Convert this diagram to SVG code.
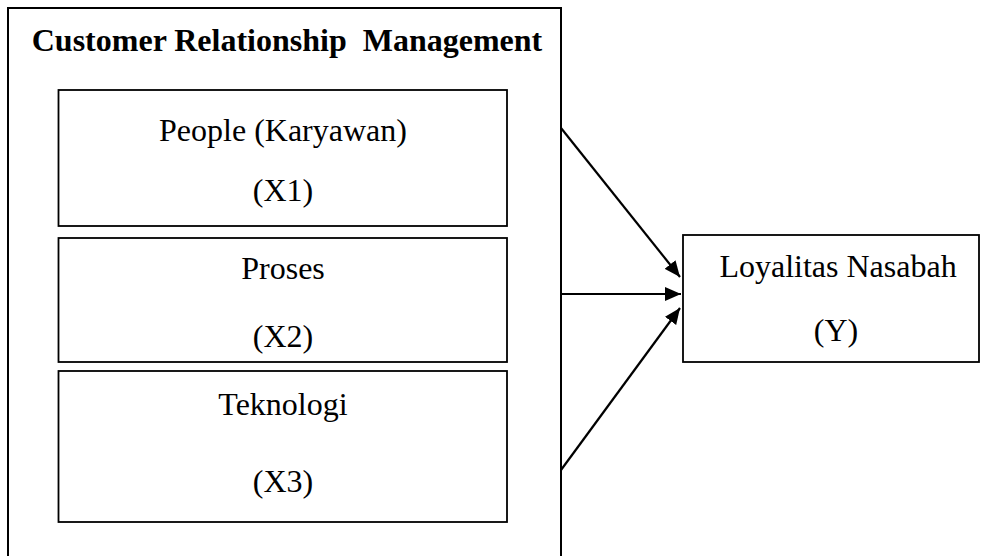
<svg xmlns="http://www.w3.org/2000/svg" width="981" height="556" viewBox="0 0 981 556">
<style>
.box{fill:#fff;stroke:#000;stroke-width:2}
.ibox{fill:#fff;stroke:#000;stroke-width:1.8}
.t{font-family:"Liberation Serif","Times New Roman",serif;font-size:32px;fill:#000;text-anchor:middle}
.b{font-weight:bold;white-space:pre}
.c{stroke:#000;stroke-width:2.2;fill:none}
</style>
<defs>
<marker id="ah" markerUnits="userSpaceOnUse" markerWidth="16" markerHeight="14" refX="16" refY="7" orient="auto">
<path d="M0,0 L16,7 L0,14 Z" fill="#000"/>
</marker>
</defs>
<rect width="981" height="556" fill="#fff"/>
<g id="crm">
<rect class="box" x="8" y="8" width="553" height="560"/>
<text class="t b" x="287" y="51" xml:space="preserve">Customer Relationship  Management</text>
</g>
<g id="x1">
<rect class="ibox" x="58.5" y="90" width="448.5" height="136"/>
<text class="t" x="283" y="141">People (Karyawan)</text>
<text class="t" x="283" y="201">(X1)</text>
</g>
<g id="x2">
<rect class="ibox" x="58.5" y="238" width="448.5" height="124"/>
<text class="t" x="283" y="279">Proses</text>
<text class="t" x="283" y="347">(X2)</text>
</g>
<g id="x3">
<rect class="ibox" x="58.5" y="371" width="448.5" height="151"/>
<text class="t" x="283" y="415">Teknologi</text>
<text class="t" x="283" y="492">(X3)</text>
</g>
<g id="y">
<rect class="ibox" x="683" y="235" width="296" height="127"/>
<text class="t" x="838" y="277">Loyalitas Nasabah</text>
<text class="t" x="836" y="341">(Y)</text>
</g>
<g id="connectors">
<line class="c" x1="561" y1="128" x2="680" y2="277" marker-end="url(#ah)"/>
<line class="c" x1="561" y1="294" x2="681" y2="294" marker-end="url(#ah)"/>
<line class="c" x1="561" y1="470" x2="680" y2="308" marker-end="url(#ah)"/>
</g>
</svg>
